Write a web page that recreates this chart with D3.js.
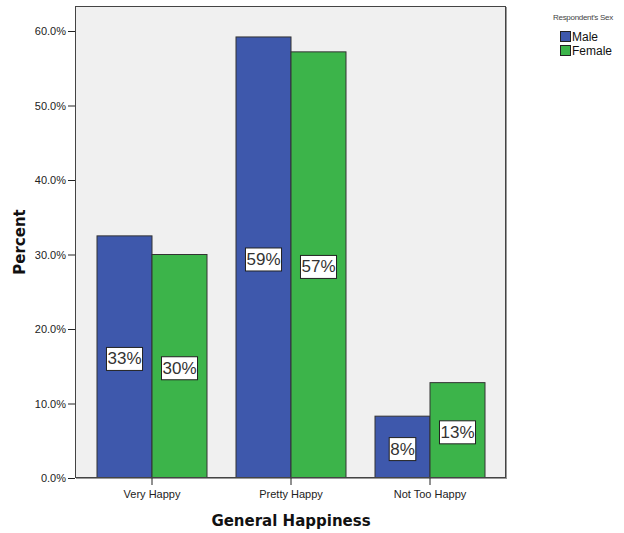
<!DOCTYPE html>
<html><head><meta charset="utf-8">
<script src="https://cdn.jsdelivr.net/npm/d3@7"></script>
<style>body{margin:0;background:#fff}svg{display:block;font-family:Arial,"Liberation Sans",sans-serif}</style>
</head><body>
<svg id="c" width="624" height="533"></svg>
<script>
const categories = ["Very Happy", "Pretty Happy", "Not Too Happy"];
const seriesNames = ["Male", "Female"];
const male = [32.5, 59.2, 8.3];
const female = [30.0, 57.2, 12.8];
const barLabels = [["33%", "59%", "8%"], ["30%", "57%", "13%"]];
const yTicks = [0, 10, 20, 30, 40, 50, 60];
const colors = ["#3E58AC", "#3CB44A"];

const svg = d3.select("#c");
const L = 75, R = 506, T = 6, B = 478;
const y = d3.scaleLinear().domain([0, 60]).range([B, 31]);
const x = d3.scaleBand().domain(categories).range([82.5, 499.5]).paddingInner(29/139).paddingOuter(14.5/139);
const xs = d3.scaleBand().domain(seriesNames).range([0, x.bandwidth()]);

svg.append("rect").attr("x", L).attr("y", T).attr("width", R - L).attr("height", B - T)
  .attr("fill", "#f0f0f0");

const data = [male, female];
seriesNames.forEach((s, si) => {
  const g = svg.append("g");
  categories.forEach((c, ci) => {
    const v = data[si][ci];
    const bx = x(c) + xs(s);
    g.append("rect").attr("x", bx).attr("y", y(v)).attr("width", xs.bandwidth()).attr("height", B - y(v))
      .attr("fill", colors[si]).attr("stroke", "#333").attr("stroke-width", 1);
  });
});
// labels
seriesNames.forEach((s, si) => {
  categories.forEach((c, ci) => {
    const v = data[si][ci];
    const cx = x(c) + xs(s) + xs.bandwidth() / 2;
    const cy = (y(v) + B) / 2 + 2;
    const t = svg.append("text").attr("x", cx).attr("y", cy).attr("text-anchor", "middle")
      .attr("dominant-baseline", "central").attr("font-size", 17).attr("fill", "#333").text(barLabels[si][ci]);
    const bb = t.node().getBBox();
    svg.insert("rect", () => t.node()).attr("x", bb.x - 1).attr("y", cy - 11.5).attr("width", bb.width + 2).attr("height", 23)
      .attr("fill", "#fff").attr("stroke", "#222").attr("stroke-width", 1);
  });
});

// frame
svg.append("rect").attr("x", L + 0.5).attr("y", T + 0.5).attr("width", R - L - 1).attr("height", B - T - 1)
  .attr("fill", "none").attr("stroke", "#444").attr("stroke-width", 1);
svg.append("line").attr("x1", R + 0.5).attr("x2", R + 0.5).attr("y1", T + 1).attr("y2", B + 1).attr("stroke", "#999");
svg.append("line").attr("x1", L + 1).attr("x2", R + 1).attr("y1", B + 0.5).attr("y2", B + 0.5).attr("stroke", "#999");

// y axis
const ya = svg.append("g").attr("transform", `translate(${L},0)`)
  .call(d3.axisLeft(y).tickValues(yTicks).tickSize(7).tickPadding(2).tickFormat(d => d.toFixed(1) + "%"));
ya.select(".domain").remove();
ya.selectAll("line").attr("stroke", "#222");
ya.selectAll("text").attr("font-size", 11).attr("fill", "#222").attr("font-family", "Arial, 'Liberation Sans', sans-serif");

// x axis
const xa = svg.append("g").attr("transform", `translate(0,${B})`)
  .call(d3.axisBottom(x).tickSize(7).tickPadding(5));
xa.select(".domain").remove();
xa.selectAll("line").attr("stroke", "#222");
xa.selectAll("text").attr("font-size", 11).attr("fill", "#222").attr("font-family", "Arial, 'Liberation Sans', sans-serif");

// axis titles
svg.append("text").attr("x", 291).attr("y", 526).attr("text-anchor", "middle")
  .attr("font-family", "'DejaVu Sans', sans-serif").attr("font-weight", "bold").attr("font-size", 15).attr("fill", "#111").text("General Happiness");
svg.append("text").attr("transform", "translate(25,242) rotate(-90)").attr("text-anchor", "middle")
  .attr("font-family", "'DejaVu Sans', sans-serif").attr("font-weight", "bold").attr("font-size", 15).attr("fill", "#111").text("Percent");

// legend
svg.append("text").attr("x", 553).attr("y", 20).attr("font-size", 8).attr("fill", "#444").attr("letter-spacing", -0.3).text("Respondent's Sex");
seriesNames.forEach((s, i) => {
  const ly = 31 + i * 14;
  svg.append("rect").attr("x", 560.5).attr("y", ly + 0.5).attr("width", 10).attr("height", 10)
    .attr("fill", colors[i]).attr("stroke", "#222");
  svg.append("text").attr("x", 572).attr("y", ly + 10).attr("font-size", 12).attr("fill", "#111").text(s);
});
</script>
</body></html>
